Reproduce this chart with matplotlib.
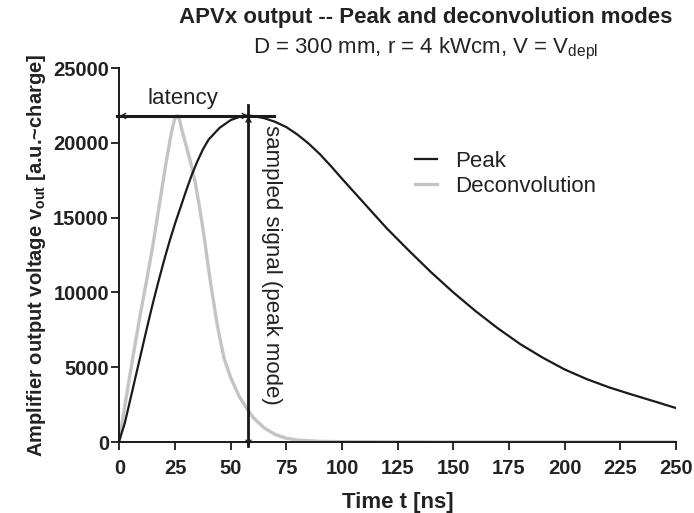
import matplotlib.pyplot as plt

plt.rcParams["font.family"] = ["Liberation Sans", "DejaVu Sans"]

# Peak mode shaper output
peak_t = [0, 2.5, 5, 7.5, 10, 12.5, 15, 17.5, 20, 22.5, 25, 27.5, 30, 32.5,
          35, 37.5, 40, 45, 50, 55, 58, 60, 65, 70, 75, 80, 85, 90, 95, 100,
          110, 120, 130, 140, 150, 160, 170, 180, 190, 200, 210, 220, 230,
          240, 250]
peak_v = [100, 1300, 2900, 4500, 6100, 7700, 9250, 10700, 12100, 13400,
          14600, 15700, 16800, 17850, 18750, 19550, 20200, 21000, 21520,
          21790, 21820, 21790, 21650, 21400, 21050, 20550, 19950, 19250,
          18450, 17600, 15950, 14300, 12800, 11350, 10000, 8750, 7600, 6550,
          5650, 4850, 4200, 3650, 3180, 2730, 2270]

# Deconvolution mode output
deconv_t = [0, 3, 6, 9, 12, 15, 18, 21, 23, 24, 25, 26, 27, 28, 30, 32, 34,
            36, 38, 41, 44, 47, 50, 54, 57, 60, 65, 70, 75, 80, 90, 100, 125,
            150, 250]
deconv_v = [100, 2900, 5600, 8200, 10600, 13100, 15900, 18700, 20400, 21100,
            21650, 21800, 21550, 20900, 19800, 18700, 17400, 15700, 13800,
            10600, 7800, 5600, 4300, 3000, 2300, 1650, 950, 500, 250, 130, 40,
            20, 10, 0, 0]

sample_t = 58
sample_v = 21800

txt = "#222222"
ink = "#1a1a1a"

fig = plt.figure(figsize=(6.94, 5.13), dpi=100)
ax = fig.add_axes([0.172, 0.1384, 0.802, 0.729])

ax.plot(deconv_t, deconv_v, color="#c4c4c4", lw=2.4, label="Deconvolution", zorder=2)
ax.plot(peak_t, peak_v, color=ink, lw=1.6, label="Peak", zorder=3)

# latency marker
ax.plot([-1, 69.5], [sample_v, sample_v], color=ink, lw=2.2, clip_on=False, zorder=4)
ax.annotate("", xy=(0, sample_v), xytext=(sample_t, sample_v),
            arrowprops=dict(arrowstyle="<->,head_length=0.35,head_width=0.18",
                            color=ink, lw=1.0, shrinkA=0, shrinkB=0),
            annotation_clip=False)
ax.text(28.5, sample_v + 450, "latency", ha="center", va="bottom",
        fontsize=16, color=txt)

# sampled signal marker
ax.plot([sample_t, sample_t], [-300, 22500], color=ink, lw=2.0, clip_on=False, zorder=4)
ax.annotate("", xy=(sample_t, -300), xytext=(sample_t, sample_v),
            arrowprops=dict(arrowstyle="<->,head_length=0.35,head_width=0.18",
                            color=ink, lw=1.0, shrinkA=0, shrinkB=0),
            annotation_clip=False)
ax.text(sample_t + 5.5, 11830, "sampled signal (peak mode)", rotation=-90,
        ha="left", va="center", fontsize=16, color=txt)

ax.set_xlim(0, 250)
ax.set_ylim(0, 25000)
ax.set_xticks(range(0, 251, 25))
ax.set_yticks(range(0, 25001, 5000))
for s in ["top", "right"]:
    ax.spines[s].set_visible(False)
for s in ["left", "bottom"]:
    ax.spines[s].set_linewidth(1.4)
    ax.spines[s].set_color(ink)
ax.tick_params(direction="out", length=5.5, width=1.3, labelsize=14.5,
               colors=ink, labelcolor=txt, pad=2)
ax.tick_params(axis="x", pad=7)
for lab in ax.get_xticklabels() + ax.get_yticklabels():
    lab.set_fontweight("bold")

ax.set_xlabel("Time t [ns]", fontsize=16, fontweight="bold", color=txt, labelpad=10)
ax.set_ylabel("Amplifier output voltage v$_{\\mathregular{out}}$ [a.u.~charge]",
              fontsize=14.5, fontweight="bold", color=txt, labelpad=4)

handles, labels = ax.get_legend_handles_labels()
ax.legend(handles[::-1], labels[::-1], loc="upper left",
          bbox_to_anchor=(0.531, 0.779), frameon=False, fontsize=16,
          handlelength=1.0, handletextpad=0.8, labelspacing=0.2,
          borderpad=0, borderaxespad=0, labelcolor=txt)

fig.text(0.614, 0.965, "APVx output -- Peak and deconvolution modes",
         ha="center", va="center", fontsize=16, fontweight="bold", color=txt)
fig.text(0.614, 0.905, "D = 300 mm, r = 4 kWcm, V = V$_{\\mathregular{depl}}$",
         ha="center", va="center", fontsize=16, color=txt)

fig.savefig("out.png", dpi=100)
